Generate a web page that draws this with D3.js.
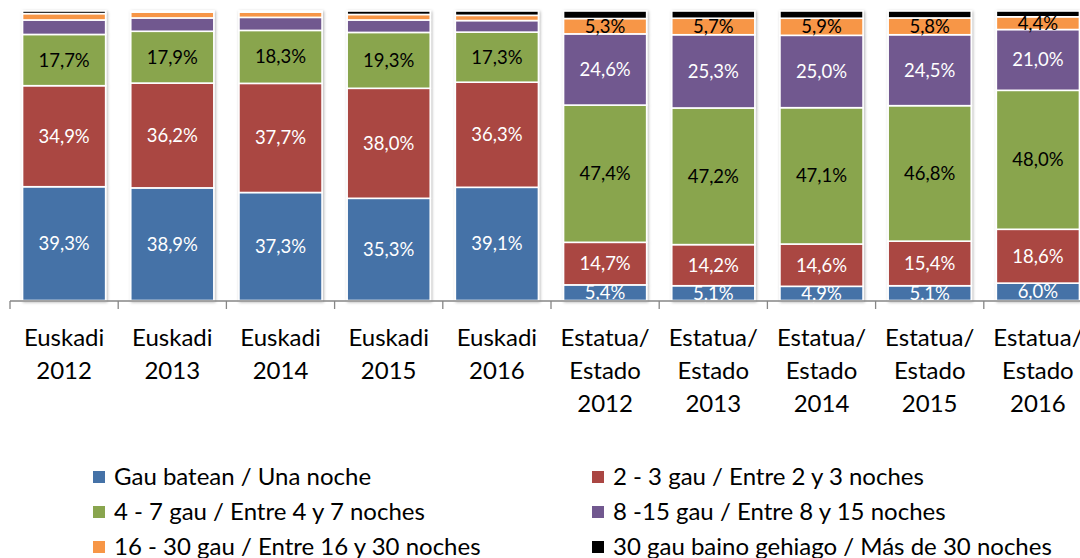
<!DOCTYPE html>
<html>
<head>
<meta charset="utf-8">
<script src="https://cdn.jsdelivr.net/npm/d3@7"></script>
<style>
  html, body { margin: 0; padding: 0; background: #ffffff; }
  svg { display: block; font-family: Lato, "Open Sans", sans-serif; }
</style>
</head>
<body>
<svg id="chart" width="1080" height="558"></svg>
<script>
// Category labels (each entry is a list of text lines)
const categories = [
  ["Euskadi", "2012"], ["Euskadi", "2013"], ["Euskadi", "2014"],
  ["Euskadi", "2015"], ["Euskadi", "2016"],
  ["Estatua/", "Estado", "2012"], ["Estatua/", "Estado", "2013"],
  ["Estatua/", "Estado", "2014"], ["Estatua/", "Estado", "2015"],
  ["Estatua/", "Estado", "2016"]
];

// Series names (legend order)
const seriesNames = [
  "Gau batean / Una noche",
  "2 - 3 gau / Entre 2 y 3 noches",
  "4 - 7 gau / Entre 4 y 7 noches",
  "8 -15 gau / Entre 8 y 15 noches",
  "16 - 30 gau / Entre 16 y 30 noches",
  "30 gau baino gehiago / Más de 30 noches"
];

// Percentage of stays by length, per category
const unaNoche   = [39.3, 38.9, 37.3, 35.3, 39.1, 5.4, 5.1, 4.9, 5.1, 6.0];
const dosTres    = [34.9, 36.2, 37.7, 38.0, 36.3, 14.7, 14.2, 14.6, 15.4, 18.6];
const cuatroSiete= [17.7, 17.9, 18.3, 19.3, 17.3, 47.4, 47.2, 47.1, 46.8, 48.0];
const ochoQuince = [5.0, 4.6, 4.5, 4.3, 4.0, 24.6, 25.3, 25.0, 24.5, 21.0];
const dieciseis  = [2.2, 2.0, 1.8, 1.9, 1.8, 5.3, 5.7, 5.9, 5.8, 4.4];
const masTreinta = [0.9, 0.4, 0.4, 1.2, 1.5, 2.6, 2.5, 2.5, 2.4, 2.0];

// Which segments carry a data label
const labelled = [
  [1,1,1,1,1,1,1,1,1,1],
  [1,1,1,1,1,1,1,1,1,1],
  [1,1,1,1,1,1,1,1,1,1],
  [0,0,0,0,0,1,1,1,1,1],
  [0,0,0,0,0,1,1,1,1,1],
  [0,0,0,0,0,0,0,0,0,0]
];

const seriesValues = [unaNoche, dosTres, cuatroSiete, ochoQuince, dieciseis, masTreinta];
const colors = ["#4572A7", "#AA4643", "#89A54E", "#71588F", "#F79646", "#000000"];
const labelColors = ["#ffffff", "#ffffff", "#000000", "#ffffff", "#000000", "#ffffff"];

const svg = d3.select("#chart");

// Rows for the stack
const rows = categories.map((c, i) => {
  const r = { idx: i };
  seriesValues.forEach((s, k) => { r["s" + k] = s[i]; });
  return r;
});
const keys = seriesValues.map((_, k) => "s" + k);
const stacked = d3.stack().keys(keys)(rows);

const x = d3.scaleBand()
  .domain(d3.range(categories.length))
  .range([10, 10 + 108.2 * categories.length])
  .paddingInner(0.232)
  .paddingOuter(0.116);

const y = d3.scaleLinear().domain([0, 100]).range([300.5, 11]);

// Soft shadow around bars
const defs = svg.append("defs");
const f = defs.append("filter").attr("id", "shadow")
  .attr("x", "-10%").attr("y", "-10%").attr("width", "130%").attr("height", "130%");
f.append("feDropShadow").attr("dx", 1).attr("dy", 1)
  .attr("stdDeviation", 1.6).attr("flood-color", "#000").attr("flood-opacity", 0.3);

const barsG = svg.append("g").attr("filter", "url(#shadow)");

stacked.forEach((layer, k) => {
  barsG.append("g")
    .selectAll("rect")
    .data(layer)
    .join("rect")
    .attr("x", (d, i) => x(i))
    .attr("width", x.bandwidth())
    .attr("y", d => y(d[1]))
    .attr("height", d => y(d[0]) - y(d[1]))
    .attr("fill", colors[k])
    .attr("stroke", "#ffffff")
    .attr("stroke-width", 1.6);
});

// Data labels
const fmt = v => v.toFixed(1).replace(".", ",") + "%";
stacked.forEach((layer, k) => {
  svg.append("g")
    .selectAll("text")
    .data(layer.filter((d, i) => labelled[k][i]))
    .join("text")
    .attr("x", d => x(d.data.idx) + x.bandwidth() / 2)
    .attr("y", d => (y(d[0]) + y(d[1])) / 2 + 6.5)
    .attr("text-anchor", "middle")
    .attr("font-size", 18.5)
    .attr("fill", labelColors[k])
    .text(d => fmt(seriesValues[k][d.data.idx]));
});

// Category axis
const axisG = svg.append("g").attr("stroke", "#868686").attr("stroke-width", 1.3);
axisG.append("line")
  .attr("x1", 10).attr("x2", 1080)
  .attr("y1", 301).attr("y2", 301);
axisG.selectAll("line.tick")
  .data(d3.range(categories.length + 1))
  .join("line")
  .attr("class", "tick")
  .attr("x1", i => 10 + x.step() * i)
  .attr("x2", i => 10 + x.step() * i)
  .attr("y1", 301).attr("y2", 309);

const catG = svg.append("g");
categories.forEach((lines, i) => {
  const t = catG.append("text")
    .attr("text-anchor", "middle")
    .attr("font-size", 24)
    .attr("fill", "#000");
  lines.forEach((ln, j) => {
    t.append("tspan")
      .attr("x", x(i) + x.bandwidth() / 2)
      .attr("y", 346 + j * 32.8)
      .text(ln);
  });
});

// Legend
const legendX = [93, 592];
const legendY = [477, 512, 547];
const lg = svg.append("g");
seriesNames.forEach((name, k) => {
  const col = k % 2, row = Math.floor(k / 2);
  lg.append("rect")
    .attr("x", legendX[col]).attr("y", legendY[row] - 6)
    .attr("width", 12).attr("height", 12)
    .attr("fill", colors[k]);
  lg.append("text")
    .attr("x", legendX[col] + 21)
    .attr("y", legendY[row] + 7.5)
    .attr("font-size", 24)
    .attr("fill", "#000")
    .text(name);
});
</script>
</body>
</html>
